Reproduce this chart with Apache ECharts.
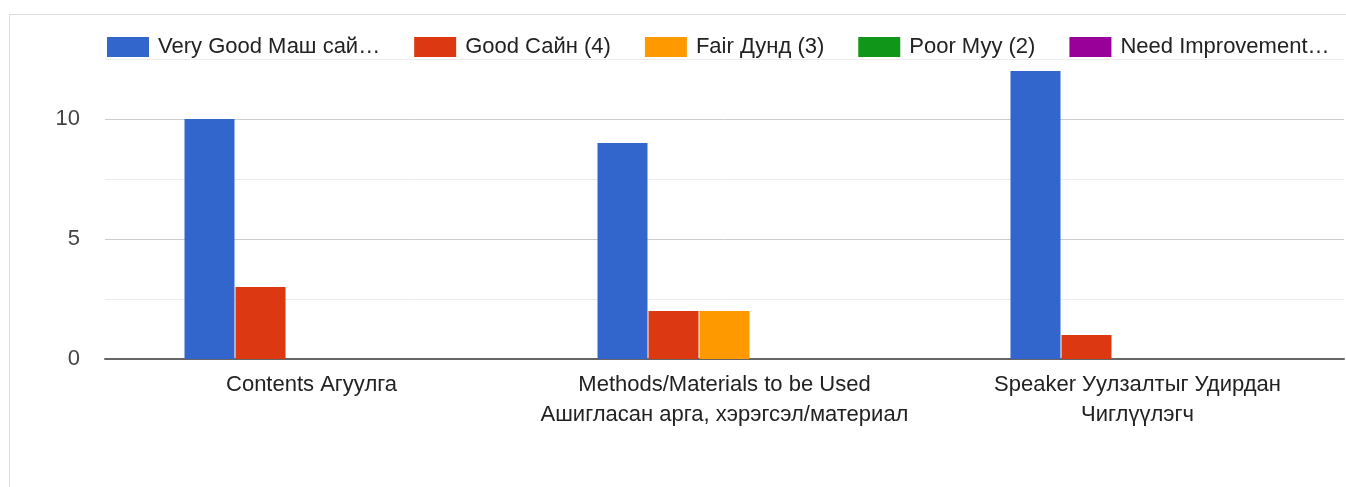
<!DOCTYPE html>
<html>
<head>
<meta charset="utf-8">
<script src="https://cdn.jsdelivr.net/npm/echarts@6/dist/echarts.min.js"></script>
<style>
html,body{margin:0;padding:0;background:#fff;}
#frame{position:absolute;left:9px;top:14px;width:1400px;height:600px;border-left:1px solid #dcdcdc;border-top:1px solid #dcdcdc;}
#chart{position:absolute;left:0;top:0;width:1346px;height:487px;}
</style>
</head>
<body>
<div id="frame"></div>
<div id="chart"></div>
<script>
const categories = [
  "Contents Агуулга",
  "Methods/Materials to be Used\nАшигласан арга, хэрэгсэл/материал",
  "Speaker Уулзалтыг Удирдан\nЧиглүүлэгч"
];
const seriesNames = [
  "Very Good Маш сай…",
  "Good Сайн (4)",
  "Fair Дунд (3)",
  "Poor Муу (2)",
  "Need Improvement…"
];
const veryGood = [10, 9, 12];
const good = [3, 2, 1];
const fair = [0, 2, 0];
const poor = [0, 0, 0];
const needImprovement = [0, 0, 0];
const yTicks = [0, 5, 10];
const colors = ["#3366cc", "#dc3912", "#ff9900", "#109618", "#990099"];

const values = [veryGood, good, fair, poor, needImprovement];
const font = "Arial, 'Liberation Sans', sans-serif";

const chart = echarts.init(document.getElementById('chart'), null, {renderer: 'canvas'});
chart.setOption({
  animation: false,
  color: colors,
  legend: {
    left: 107,
    top: 36,
    padding: 0,
    itemWidth: 42,
    itemHeight: 20,
    itemGap: 34,
    icon: 'rect',
    textStyle: {fontFamily: font, fontSize: 22, color: '#222', padding: [0, 0, 0, 4]},
    data: seriesNames
  },
  grid: {left: 105, right: 2, top: 59, bottom: 128, containLabel: false},
  xAxis: {
    type: 'category',
    data: categories,
    axisTick: {show: false},
    axisLine: {lineStyle: {color: '#666', width: 2}},
    axisLabel: {fontFamily: font, fontSize: 22, color: '#222', margin: 11, lineHeight: 30, interval: 0}
  },
  yAxis: {
    type: 'value',
    min: 0,
    max: 12.5,
    interval: 2.5,
    axisLine: {show: false},
    axisTick: {show: false},
    axisLabel: {
      fontFamily: font, fontSize: 22, color: '#444', margin: 25,
      formatter: v => yTicks.indexOf(v) >= 0 ? String(v) : ''
    },
    splitLine: {lineStyle: {color: ['#cccccc', '#ececec', '#cccccc', '#ececec', '#cccccc', '#ececec'], width: 1}}
  },
  series: seriesNames.map((n, i) => ({
    name: n,
    type: 'bar',
    data: values[i],
    barWidth: 50,
    barGap: '2%'
  }))
});
</script>
</body>
</html>
